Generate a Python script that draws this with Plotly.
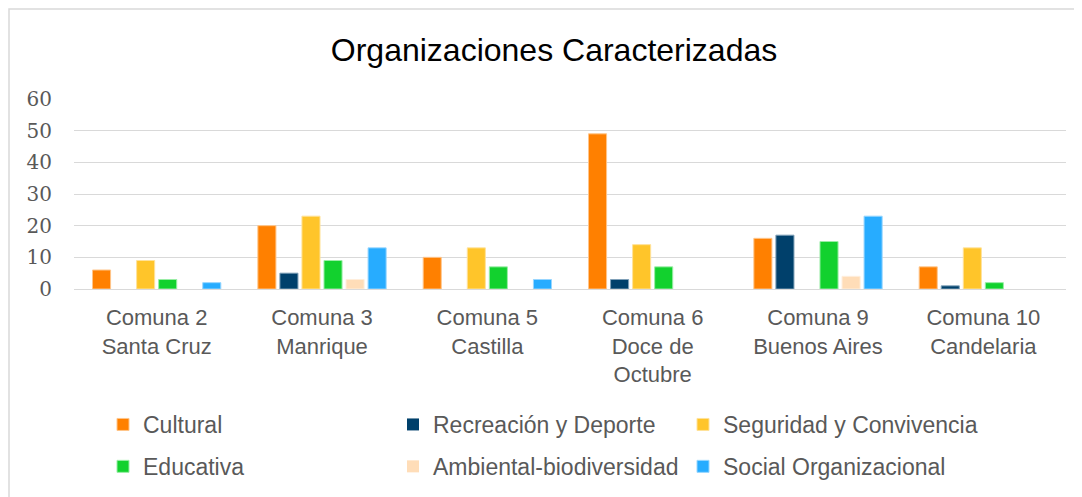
import plotly.graph_objects as go

categories = ["Comuna 2<br>Santa Cruz", "Comuna 3<br>Manrique", "Comuna 5<br>Castilla",
              "Comuna 6<br>Doce de<br>Octubre", "Comuna 9<br>Buenos Aires", "Comuna 10<br>Candelaria"]

cultural = [6, 20, 10, 49, 16, 7]
recreacion = [0, 5, 0, 3, 17, 1]
seguridad = [9, 23, 13, 14, 0, 13]
educativa = [3, 9, 7, 7, 15, 2]
ambiental = [0, 3, 0, 0, 4, 0]
social = [2, 13, 3, 0, 23, 0]

series = [
    ("Cultural", cultural, "#FF8000", "#FFC58A", "legend"),
    ("Recreación y Deporte", recreacion, "#00406B", "#7FA0B8", "legend2"),
    ("Seguridad y Convivencia", seguridad, "#FFC52A", "#FFE29A", "legend3"),
    ("Educativa", educativa, "#12D12E", "#9AEDA6", "legend"),
    ("Ambiental-biodiversidad", ambiental, "#FFDDB8", "#FFEEDC", "legend2"),
    ("Social Organizacional", social, "#27ACFF", "#98D6FF", "legend3"),
]

fig = go.Figure()
for i, (name, vals, col, lcol, lg) in enumerate(series):
    fig.add_trace(go.Bar(
        name=name, x=categories, y=vals,
        marker=dict(color=col, line=dict(color=lcol, width=[1 if v > 0 else 0 for v in vals])),
        legend=lg, legendgroup=name,
    ))

# page body has an 8px margin: work in page pixels, then offset
OFF = 8
W, H = 1082 - OFF, 497 - OFF
PL, PR, PT, PB = 74, 1066, 99, 289  # plot area in page pixels
ml, mr, mt = PL - OFF, 1082 - PR, PT - OFF
mb = H - (PB - OFF)
pw = PR - PL
ph = PB - PT

def px_x(p):
    return (p - PL) / pw

def px_y(p):
    return (PB - p) / ph

legend_font = dict(family="Liberation Sans, Arial, sans-serif", size=23, color="#595959")
leg_common = dict(orientation="v", xanchor="left", yanchor="top", y=px_y(403),
                  font=legend_font, tracegroupgap=9, bgcolor="rgba(0,0,0,0)")

fig.update_layout(
    width=W, height=H,
    margin=dict(l=ml, r=mr, t=mt, b=mb, pad=0, autoexpand=False),
    paper_bgcolor="white", plot_bgcolor="white",
    barmode="group", bargap=0.2, bargroupgap=0.18,
    title=dict(text="Organizaciones Caracterizadas", x=(554 - OFF) / W, xanchor="center",
               xref="container", yref="container", y=1 - (50 - OFF) / H, yanchor="middle",
               font=dict(family="Liberation Sans, Arial, sans-serif", size=32, color="#000000")),
    legend=dict(x=px_x(103), **leg_common),
    legend2=dict(x=px_x(393), **leg_common),
    legend3=dict(x=px_x(683), **leg_common),
    showlegend=True,
    xaxis=dict(showgrid=False, showline=False, zeroline=False, ticks="",
               tickfont=dict(family="Liberation Sans, Arial, sans-serif", size=22, color="#595959"),
               ticklabelstandoff=13, automargin=False),
    yaxis=dict(range=[0, 60], dtick=10, showgrid=True, gridcolor="#D9D9D9", gridwidth=1.3,
               zeroline=True, zerolinecolor="#D9D9D9", zerolinewidth=1.3, showline=False,
               tickfont=dict(family="DejaVu Serif, serif", size=20, color="#595959"),
               ticks="", ticklabelstandoff=21, automargin=False),
    shapes=[dict(type="rect", xref="paper", yref="paper",
                 x0=px_x(9), x1=px_x(1100), y0=px_y(520), y1=px_y(9),
                 line=dict(color="#D9D9D9", width=1.5), fillcolor="rgba(0,0,0,0)", layer="below")],
)

fig.write_html("out.html")
